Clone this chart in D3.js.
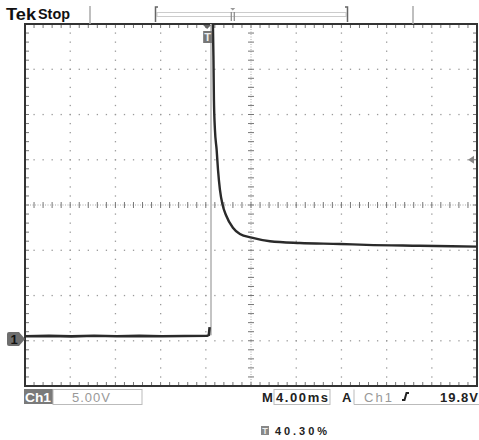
<!DOCTYPE html>
<html><head><meta charset="utf-8">
<script src="https://cdn.jsdelivr.net/npm/d3@7"></script>
<style>html,body{margin:0;padding:0;background:#fff;}svg{display:block;}</style>
</head><body>
<script>
// ---- data ----
const baseTimeMs  = [-16.12, -14, -12, -10, -8, -6, -4, -2, 0, 0.15, 0.22];
const baseVolts   = [0.30, 0.34, 0.29, 0.35, 0.31, 0.34, 0.30, 0.33, 0.36, 0.45, 1.3];
const edgeTimeMs  = [0.34, 0.34];
const edgeVolts   = [0.4, 36];
const decayTimeMs = [0.45, 0.51, 0.56, 0.60, 0.69, 0.84, 0.96, 1.13, 1.37, 1.66, 2.28, 2.90, 3.94, 5.56, 8.2, 11.75, 14.1, 18.8, 23.88];
const decayVolts  = [36, 34.8, 30.8, 26.4, 23.1, 20.9, 18.7, 16.5, 14.8, 13.7, 12.3, 11.6, 11.2, 10.8, 10.6, 10.5, 10.4, 10.3, 10.2];
const voltsPerDiv = 5.00;
const msPerDiv = 4.00;
const triggerPosPct = 40.30;
const triggerLevelV = 19.8;
const groundDiv = -2.961;   // ground marker position, divisions from centre
const statusLabels = {ch: "Ch1", scale: "5.00V", m: "M", time: "4.00ms", a: "A", trig: "19.8V", pos: "40.30%"};

// ---- layout ----
const W = 479, H = 440;
const L = 25, R = 477, T = 24, B = 386;
const svg = d3.select("body").append("svg").attr("width", W).attr("height", H);
svg.append("rect").attr("width", W).attr("height", H).attr("fill", "#fff");

const xDiv = d3.scaleLinear().domain([0, 10]).range([L, R]);
const yDiv = d3.scaleLinear().domain([-4, 4]).range([B, T]);
const t0 = -triggerPosPct / 100 * 10 * msPerDiv;
const x = d3.scaleLinear().domain([t0, t0 + 10 * msPerDiv]).range([L, R]);
const y = d3.scaleLinear().domain([(-4 - groundDiv) * voltsPerDiv, (4 - groundDiv) * voltsPerDiv]).range([B, T]);

const g = svg.append("g");
// grid dots
const minorX = d3.range(0, 50.001, 1).map(i => i / 5);
const minorY = d3.range(-20, 20.001, 1).map(i => i / 5);
const dotColor = "#9a9a9a";
[1,2,3,4,6,7,8,9].forEach(d => {
  minorY.forEach(v => g.append("rect").attr("x", xDiv(d) - 0.6).attr("y", yDiv(v) - 0.6).attr("width", 1.3).attr("height", 1.3).attr("fill", dotColor));
});
[-3,-2,-1,1,2,3].forEach(d => {
  minorX.forEach(v => g.append("rect").attr("x", xDiv(v) - 0.6).attr("y", yDiv(d) - 0.6).attr("width", 1.3).attr("height", 1.3).attr("fill", dotColor));
});
// centre crosshair
g.append("line").attr("x1", xDiv(5)).attr("x2", xDiv(5)).attr("y1", T).attr("y2", B).attr("stroke", "#aaa").attr("stroke-width", 1).attr("stroke-dasharray", "1,1.5");
g.append("line").attr("x1", L).attr("x2", R).attr("y1", yDiv(0)).attr("y2", yDiv(0)).attr("stroke", "#aaa").attr("stroke-width", 1).attr("stroke-dasharray", "1,1.5");
minorY.forEach(v => g.append("line").attr("x1", xDiv(5) - 3).attr("x2", xDiv(5) + 3).attr("y1", yDiv(v)).attr("y2", yDiv(v)).attr("stroke", "#777").attr("stroke-width", 1));
minorX.forEach(v => g.append("line").attr("y1", yDiv(0) - 3).attr("y2", yDiv(0) + 3).attr("x1", xDiv(v)).attr("x2", xDiv(v)).attr("stroke", "#777").attr("stroke-width", 1));
// border ticks
minorX.forEach(v => {
  g.append("line").attr("x1", xDiv(v)).attr("x2", xDiv(v)).attr("y1", T).attr("y2", T + 4).attr("stroke", "#777");
  g.append("line").attr("x1", xDiv(v)).attr("x2", xDiv(v)).attr("y1", B).attr("y2", B - 4).attr("stroke", "#777");
});
minorY.forEach(v => {
  g.append("line").attr("x1", L).attr("x2", L + 4).attr("y1", yDiv(v)).attr("y2", yDiv(v)).attr("stroke", "#777");
  g.append("line").attr("x1", R).attr("x2", R - 4).attr("y1", yDiv(v)).attr("y2", yDiv(v)).attr("stroke", "#777");
});
// border
g.append("rect").attr("x", L).attr("y", T).attr("width", R - L).attr("height", B - T).attr("fill", "none").attr("stroke", "#333").attr("stroke-width", 2);

// traces
svg.append("clipPath").attr("id", "clip").append("rect").attr("x", L).attr("y", T).attr("width", R - L).attr("height", B - T);
const line = d3.line().x(d => x(d[0])).y(d => y(d[1]));
const lineSmooth = d3.line().x(d => x(d[0])).y(d => y(d[1])).curve(d3.curveMonotoneX);
const tr = svg.append("g").attr("clip-path", "url(#clip)");
tr.append("path").datum(edgeTimeMs.map((t, i) => [t, edgeVolts[i]])).attr("d", line).attr("fill", "none").attr("stroke", "#c4c4c4").attr("stroke-width", 2);
tr.append("path").datum(baseTimeMs.map((t, i) => [t, baseVolts[i]])).attr("d", line).attr("fill", "none").attr("stroke", "#2a2a2a").attr("stroke-width", 2.6);
tr.append("path").datum(decayTimeMs.map((t, i) => [t, decayVolts[i]])).attr("d", lineSmooth).attr("fill", "none").attr("stroke", "#2a2a2a").attr("stroke-width", 2.4);

// ground marker
const gy = y(0);
svg.append("path").attr("d", `M9,${gy-7} H19 L25,${gy} L19,${gy+7} H9 Q7,${gy+7} 7,${gy+5} V${gy-5} Q7,${gy-7} 9,${gy-7} Z`).attr("fill", "#6e6e6e");
svg.append("text").attr("x", 14).attr("y", gy + 5).attr("text-anchor", "middle").attr("font-family", "Liberation Sans, Arial, sans-serif").attr("font-weight", "bold").attr("font-size", 13).attr("fill", "#111").text("1");
// trigger level arrow
const ty = y(triggerLevelV);
svg.append("path").attr("d", `M468,${ty} L474,${ty-4} L474,${ty+4} Z`).attr("fill", "#888");
// trigger position marker
const tx = x(0);
svg.append("path").attr("d", `M${tx-4},${T+1} L${tx+4},${T+1} L${tx},${T+5} Z`).attr("fill", "#666");
svg.append("rect").attr("x", tx - 4).attr("y", 31).attr("width", 9).attr("height", 12).attr("fill", "#777");
svg.append("text").attr("x", tx + 0.5).attr("y", 41).attr("text-anchor", "middle").attr("font-family", "Liberation Sans, Arial, sans-serif").attr("font-weight", "bold").attr("font-size", 11).attr("fill", "#eee").text("T");

// top bar
const font = "Liberation Sans, Arial, sans-serif";
svg.append("text").attr("x", 6).attr("y", 20).attr("font-family", font).attr("font-weight", "bold").attr("font-size", 16).attr("fill", "#111").attr("textLength", 30).attr("lengthAdjust", "spacingAndGlyphs").text("Tek");
svg.append("text").attr("x", 38).attr("y", 19).attr("font-family", font).attr("font-weight", "bold").attr("font-size", 14).attr("fill", "#111").attr("textLength", 32).attr("lengthAdjust", "spacingAndGlyphs").text("Stop");
[90, 413].forEach(xx => svg.append("line").attr("x1", xx).attr("x2", xx).attr("y1", 6).attr("y2", T).attr("stroke", "#aaa").attr("stroke-width", 1.5));
svg.append("rect").attr("x", 157).attr("y", 12.5).attr("width", 189).attr("height", 4).attr("fill", "none").attr("stroke", "#ccc").attr("stroke-width", 1);
svg.append("path").attr("d", "M158,7 H155.5 V22").attr("fill", "none").attr("stroke", "#666").attr("stroke-width", 1.5);
svg.append("path").attr("d", "M345,7 H347.5 V22").attr("fill", "none").attr("stroke", "#666").attr("stroke-width", 1.5);
const rx = 155 + triggerPosPct / 100 * 193;
[rx - 1.5, rx + 1.5].forEach(xx => svg.append("line").attr("x1", xx).attr("x2", xx).attr("y1", 12).attr("y2", 21).attr("stroke", "#888").attr("stroke-width", 1.2));
svg.append("path").attr("d", `M${rx-2.5},8 H${rx+2.5} L${rx},10.5 Z`).attr("fill", "#999");

// status line
const sy = 402;
svg.append("rect").attr("x", 24).attr("y", 389).attr("width", 29).attr("height", 15).attr("fill", "#7a7a7a");
svg.append("text").attr("x", 25).attr("y", sy).attr("font-family", font).attr("font-weight", "bold").attr("font-size", 13).attr("fill", "#fff").attr("textLength", 26).attr("lengthAdjust", "spacingAndGlyphs").text(statusLabels.ch);
svg.append("rect").attr("x", 53).attr("y", 389.5).attr("width", 89).attr("height", 15).attr("fill", "none").attr("stroke", "#bbb").attr("stroke-width", 1);
svg.append("text").attr("x", 72).attr("y", sy).attr("font-family", font).attr("font-size", 13).attr("fill", "#999").attr("textLength", 38).attr("lengthAdjust", "spacing").text(statusLabels.scale);
svg.append("text").attr("x", 262).attr("y", sy).attr("font-family", font).attr("font-weight", "bold").attr("font-size", 13).attr("fill", "#222").text(statusLabels.m);
svg.append("rect").attr("x", 274).attr("y", 389.5).attr("width", 56).attr("height", 15).attr("fill", "none").attr("stroke", "#bbb").attr("stroke-width", 1);
svg.append("text").attr("x", 276).attr("y", sy).attr("font-family", font).attr("font-weight", "bold").attr("font-size", 13).attr("fill", "#222").attr("textLength", 52).attr("lengthAdjust", "spacing").text(statusLabels.time);
svg.append("text").attr("x", 342).attr("y", sy).attr("font-family", font).attr("font-weight", "bold").attr("font-size", 13).attr("fill", "#222").text(statusLabels.a);
svg.append("path").attr("d", "M354,389.5 V404.5 H479").attr("fill", "none").attr("stroke", "#bbb").attr("stroke-width", 1);
svg.append("text").attr("x", 364).attr("y", sy).attr("font-family", font).attr("font-size", 13).attr("fill", "#999").attr("textLength", 28).attr("lengthAdjust", "spacing").text(statusLabels.ch);
svg.append("path").attr("d", "M402,400 H404.5 L406.5,393 H409").attr("fill", "none").attr("stroke", "#222").attr("stroke-width", 2);
svg.append("text").attr("x", 440).attr("y", sy).attr("font-family", font).attr("font-weight", "bold").attr("font-size", 13).attr("fill", "#222").attr("textLength", 38).attr("lengthAdjust", "spacing").text(statusLabels.trig);

// trigger position readout
svg.append("rect").attr("x", 261).attr("y", 426).attr("width", 8).attr("height", 9).attr("fill", "#888");
svg.append("text").attr("x", 265).attr("y", 434).attr("text-anchor", "middle").attr("font-family", font).attr("font-weight", "bold").attr("font-size", 9).attr("fill", "#eee").text("T");
svg.append("text").attr("x", 275).attr("y", 435).attr("font-family", font).attr("font-weight", "bold").attr("font-size", 11).attr("fill", "#222").attr("textLength", 52).attr("lengthAdjust", "spacing").text(statusLabels.pos);
</script>
</body></html>
